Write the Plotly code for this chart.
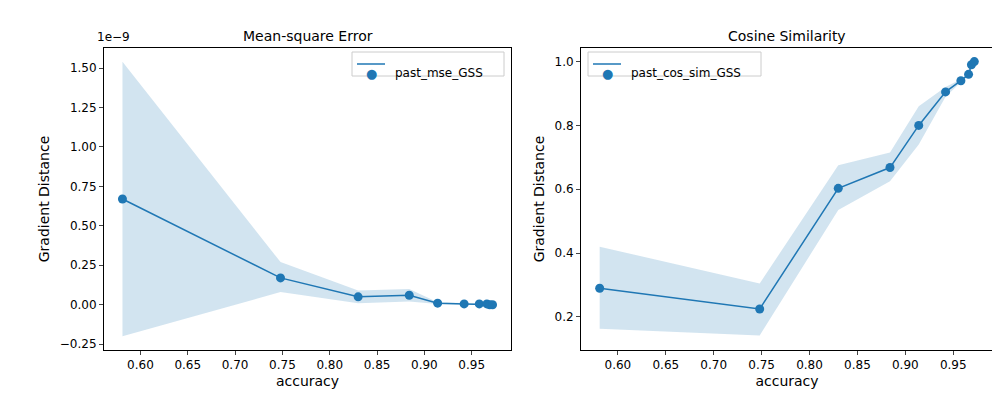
import plotly.graph_objects as go

accuracy = [0.581, 0.748, 0.830, 0.884, 0.914, 0.942, 0.958, 0.966, 0.969, 0.972]

# mean-square error, in units of 1e-9
mse = [0.67, 0.17, 0.05, 0.06, 0.01, 0.005, 0.005, 0.005, 0.0, 0.0]
mse_lo = [-0.20, 0.08, 0.01, 0.02, 0.005, 0.002, 0.002, 0.002, -0.002, -0.002]
mse_hi = [1.54, 0.27, 0.09, 0.10, 0.015, 0.008, 0.008, 0.008, 0.002, 0.002]

cos_sim = [0.29, 0.225, 0.603, 0.668, 0.80, 0.905, 0.94, 0.96, 0.99, 1.0]
cos_lo = [0.163, 0.142, 0.535, 0.625, 0.74, 0.89, 0.935, 0.955, 0.985, 0.998]
cos_hi = [0.42, 0.305, 0.675, 0.715, 0.86, 0.92, 0.945, 0.965, 0.995, 1.002]

blue = "#1f77b4"
band = "rgba(31,119,180,0.2)"
fig = go.Figure()


def add_series(xa, ya, y, lo, hi, name):
    fig.add_trace(go.Scatter(x=accuracy, y=hi, mode="lines", line=dict(width=0),
                             xaxis=xa, yaxis=ya, showlegend=False, hoverinfo="skip"))
    fig.add_trace(go.Scatter(x=accuracy, y=lo, mode="lines", line=dict(width=0),
                             fill="tonexty", fillcolor=band,
                             xaxis=xa, yaxis=ya, showlegend=False, hoverinfo="skip"))
    fig.add_trace(go.Scatter(x=accuracy, y=y, mode="lines+markers", name=name,
                             line=dict(color=blue, width=1.5),
                             marker=dict(size=9, color=blue),
                             xaxis=xa, yaxis=ya, showlegend=False))


add_series("x", "y", mse, mse_lo, mse_hi, "past_mse_GSS")
add_series("x2", "y2", cos_sim, cos_lo, cos_hi, "past_cos_sim_GSS")

ax = dict(showline=True, mirror=True, linecolor="black", linewidth=1,
          ticks="outside", ticklen=4, showgrid=False, zeroline=False,
          tickfont=dict(size=12, color="black"))
xticks = [0.6, 0.65, 0.7, 0.75, 0.8, 0.85, 0.9, 0.95]
xtext = ["%.2f" % v for v in xticks]

fig.update_layout(
    width=1000, height=400, plot_bgcolor="white", paper_bgcolor="white",
    margin=dict(l=0, r=0, t=0, b=0),
    font=dict(family="DejaVu Sans", size=12, color="black"),
    xaxis=dict(ax, domain=[0.096, 0.503], range=[0.5615, 0.9915],
               tickvals=xticks, ticktext=xtext,
               title=dict(text="accuracy", standoff=4), anchor="y"),
    yaxis=dict(ax, domain=[0.145, 0.9], range=[-0.287, 1.627],
               tickvals=[-0.25, 0, 0.25, 0.5, 0.75, 1.0, 1.25, 1.5],
               ticktext=["−0.25", "0.00", "0.25", "0.50", "0.75", "1.00", "1.25", "1.50"],
               title=dict(text="Gradient Distance", standoff=6), anchor="x"),
    xaxis2=dict(ax, domain=[0.573, 0.985], range=[0.5615, 0.9915],
                tickvals=xticks, ticktext=xtext,
                title=dict(text="accuracy", standoff=4), anchor="y2"),
    yaxis2=dict(ax, domain=[0.145, 0.9], range=[0.0965, 1.0425],
                tickvals=[0.2, 0.4, 0.6, 0.8, 1.0],
                ticktext=["0.2", "0.4", "0.6", "0.8", "1.0"],
                title=dict(text="Gradient Distance", standoff=6), anchor="x2"),
)

annos = [
    dict(text="Mean-square Error", x=0.2995, y=0.905, font=dict(size=14)),
    dict(text="Cosine Similarity", x=0.779, y=0.905, font=dict(size=14)),
    dict(text="1e−9", x=0.087, y=0.905, xanchor="left", font=dict(size=12)),
]
for a in annos:
    fig.add_annotation(xref="paper", yref="paper", showarrow=False,
                       yanchor="bottom", xanchor=a.get("xanchor", "center"),
                       text=a["text"], x=a["x"], y=a["y"], font=a["font"])

# legend boxes, drawn by hand to sit where matplotlib puts them
fig.add_shape(type="rect", xref="paper", yref="paper", x0=0.344, x1=0.496, y0=0.83, y1=0.89,
              line=dict(color="#cccccc", width=1), fillcolor="white")
fig.add_shape(type="rect", xref="paper", yref="paper", x0=0.58, x1=0.753, y0=0.83, y1=0.89,
              line=dict(color="#cccccc", width=1), fillcolor="white")
for x0, name in [(0.349, "past_mse_GSS"), (0.585, "past_cos_sim_GSS")]:
    fig.add_shape(type="line", xref="paper", yref="paper", x0=x0, x1=x0 + 0.028,
                  y0=0.86, y1=0.86, line=dict(color=blue, width=1.5))
    fig.add_annotation(xref="paper", yref="paper", x=x0 + 0.014, y=0.86, text="●",
                       showarrow=False, font=dict(size=13, color=blue))
    fig.add_annotation(xref="paper", yref="paper", x=x0 + 0.036, y=0.86, text=name,
                       xanchor="left", showarrow=False, font=dict(size=12))

fig.write_html("out.html")
